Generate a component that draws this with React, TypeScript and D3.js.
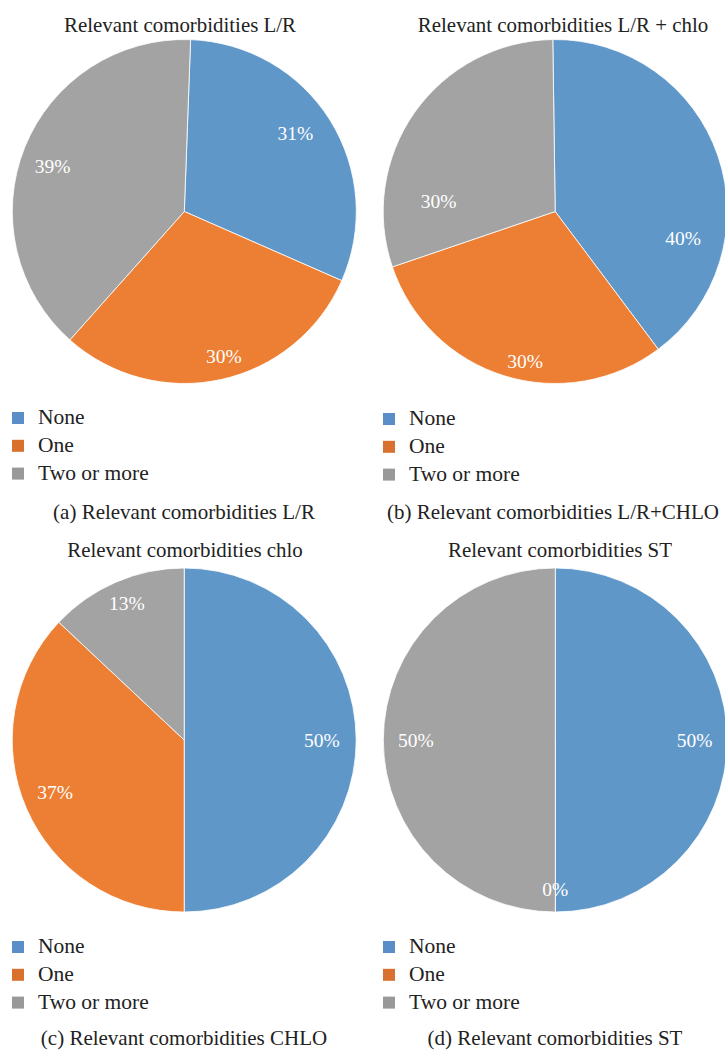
import React from "react";
import { pie, arc, PieArcDatum } from "d3";

// legend categories shared by all four pies
const categories = ["None", "One", "Two or more"];

// percent values
const lrValues = [31, 30, 39];
const lrChloValues = [40, 30, 30];
const chloValues = [50, 37, 13];
const stValues = [50, 0, 50];

const chartTitles = [
  "Relevant comorbidities L/R",
  "Relevant comorbidities L/R + chlo",
  "Relevant comorbidities chlo",
  "Relevant comorbidities ST",
];
const captions = [
  "(a) Relevant comorbidities L/R",
  "(b) Relevant comorbidities L/R+CHLO",
  "(c) Relevant comorbidities CHLO",
  "(d) Relevant comorbidities ST",
];

const sliceColors = ["#6097c9", "#ec7f33", "#a3a3a3"];
const legendColors = ["#5b8ec6", "#d8712e", "#999999"];

const W = 725;
const H = 1051;
const R = 172;
const FONT = "Liberation Serif, DejaVu Serif, serif";

// layout of each panel; labelPos = [angle shift in degrees, radius factor] per slice label
const panels = [
  {
    values: lrValues, cx: 184.3, cy: 211.5, start: 2.1,
    titleX: 180, titleY: 32, legendX: 12, legendY: 424, capX: 184, capY: 519,
    labelPos: [[-3, 0.79], [-3, 0.87], [-3, 0.81]],
  },
  {
    values: lrChloValues, cx: 555.2, cy: 211.5, start: -0.8,
    titleX: 563, titleY: 32, legendX: 383, legendY: 425, capX: 553, capY: 519,
    labelPos: [[30.6, 0.76], [-5.9, 0.89], [-30.2, 0.68]],
  },
  {
    values: chloValues, cx: 184.2, cy: 740, start: 0,
    titleX: 185, titleY: 557, legendX: 12, legendY: 953, capX: 184, capY: 1045,
    labelPos: [[0, 0.8], [1.4, 0.81], [0.6, 0.86]],
  },
  {
    values: stValues, cx: 555.3, cy: 740, start: 0,
    titleX: 560, titleY: 557, legendX: 383, legendY: 953, capX: 555, capY: 1045,
    labelPos: [[0, 0.81], [0, 0.87], [0, 0.81]],
  },
];

function PiePanel({ p, i }: { p: (typeof panels)[number]; i: number }) {
  const rad = (p.start * Math.PI) / 180;
  const layout = pie<number>()
    .sort(null)
    .value((d) => d)
    .startAngle(rad)
    .endAngle(rad + 2 * Math.PI);
  const arcs = layout(p.values);
  const sliceArc = arc<PieArcDatum<number>>().innerRadius(0).outerRadius(R);

  return (
    <g>
      <text x={p.titleX} y={p.titleY} textAnchor="middle" fontSize={20.9} fill="#222">
        {chartTitles[i]}
      </text>
      <g transform={`translate(${p.cx},${p.cy})`}>
        {arcs.map((a, j) => (
          <path key={j} d={sliceArc(a) || ""} fill={sliceColors[j]} stroke="#fff" strokeWidth={0.8} />
        ))}
        {arcs.map((a, j) => {
          const [shift, rf] = p.labelPos[j];
          const shifted = { ...a, startAngle: a.startAngle + (shift * Math.PI) / 180, endAngle: a.endAngle + (shift * Math.PI) / 180 };
          const [x, y] = arc<PieArcDatum<number>>().innerRadius(R * rf).outerRadius(R * rf).centroid(shifted);
          return (
            <text key={j} x={x} y={y} dy="0.35em" textAnchor="middle" fontSize={19.5} fill="#fff">
              {`${a.data}%`}
            </text>
          );
        })}
      </g>
      {categories.map((c, j) => (
        <g key={c}>
          <rect x={p.legendX} y={p.legendY + j * 27.8 - 12} width={12} height={12} fill={legendColors[j]} />
          <text x={p.legendX + 26} y={p.legendY + j * 27.8} fontSize={21.5} fill="#222">
            {c}
          </text>
        </g>
      ))}
      <text x={p.capX} y={p.capY} textAnchor="middle" fontSize={21} fill="#222">
        {captions[i]}
      </text>
    </g>
  );
}

export default function App() {
  return (
    <svg
      width={W}
      height={H}
      style={{ position: "absolute", left: 0, top: 0, background: "#fff", fontFamily: FONT }}
    >
      {panels.map((p, i) => (
        <PiePanel key={i} p={p} i={i} />
      ))}
    </svg>
  );
}
